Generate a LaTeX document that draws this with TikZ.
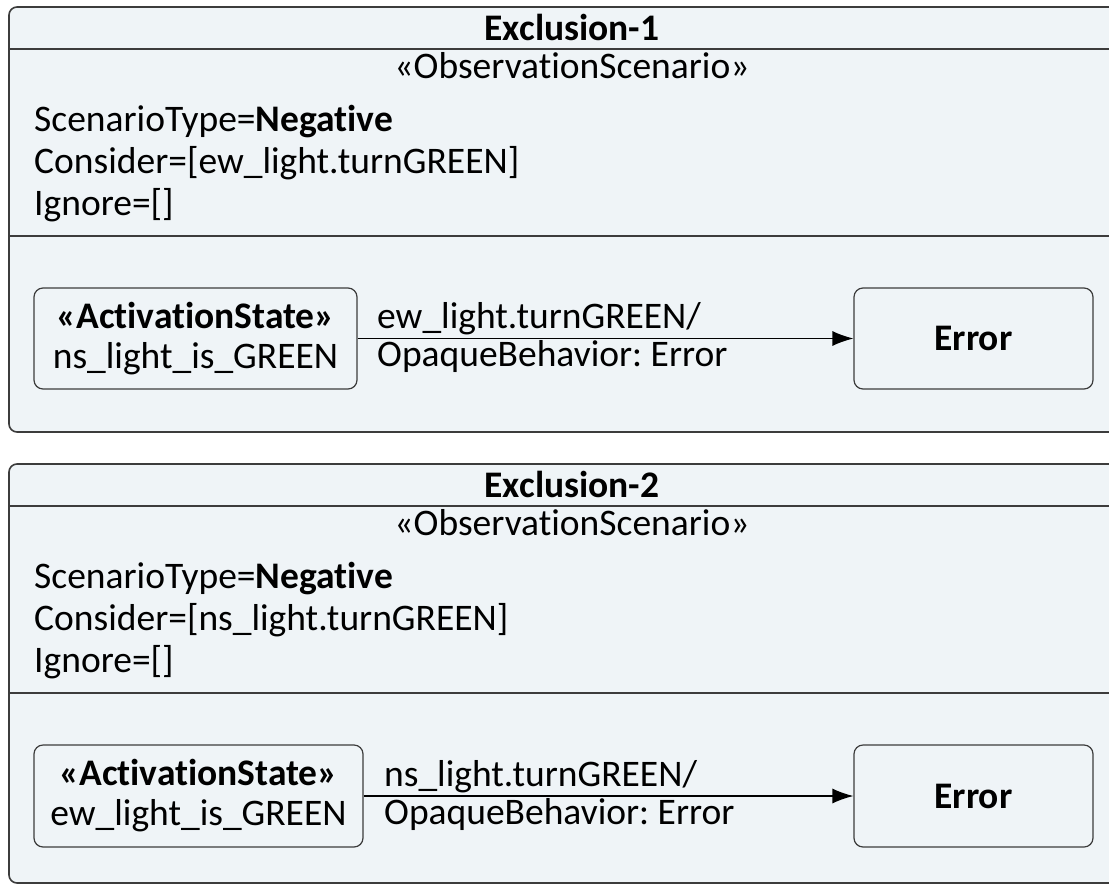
\documentclass[tikz,border=0pt]{standalone}
\usepackage{fontspec}
\setmainfont{Carlito}[Ligatures=NoCommon]
\usetikzlibrary{arrows.meta}
\frenchspacing

\definecolor{framefill}{RGB}{239,244,247}
\definecolor{framedraw}{RGB}{60,60,60}

\tikzset{
  frame/.style={draw=framedraw, fill=framefill, line width=1.6pt, rounded corners=8pt},
  sep/.style={draw=framedraw, line width=1.6pt},
  txt/.style={inner sep=0pt, font=\fontsize{37.5}{42}\selectfont},
  statebox/.style={draw=framedraw, line width=1.2pt, rounded corners=9pt, inner sep=0pt,
    align=center, font=\fontsize{37.5}{40}\selectfont},
  trans/.style={draw=black, line width=1.2pt, -{Latex[length=21pt,width=15pt]}}
}

\begin{document}
\begin{tikzpicture}[x=1pt,y=-1pt]
 \useasboundingbox (0,0) rectangle (1109,887);
 \clip (0,0) rectangle (1109,887);
% first scenario
 \draw[frame] (9,7) rectangle (1135,432);
 \draw[sep] (9,49)--(1135,49);
 \draw[sep] (9,236)--(1135,236);
 \node[txt, anchor=base] (title1) at (572,40) {\textbf{Exclusion-1}};
 \node[txt, anchor=base] (stereo1) at (572,78) {«ObservationScenario»};
 \node[txt, anchor=base west] (type1) at (34,131) {ScenarioType=\textbf{Negative}};
 \node[txt, anchor=base west] (cons1) at (34,173) {Consider=[ew\_light.turnGREEN]};
 \node[txt, anchor=base west] (ign1) at (34,215) {Ignore=[]};
 \node[statebox, minimum width=323pt, minimum height=101pt] (act1) at (195.5,338.5)
   {\textbf{«ActivationState»}\\ns\_light\_is\_GREEN};
 \node[statebox, minimum width=239pt, minimum height=101pt] (err1) at (973.5,338.5)
   {\textbf{Error}};
 \draw[trans] (act1) -- (err1);
 \node[txt, anchor=base west] (ev1) at (377,328) {ew\_light.turnGREEN/};
 \node[txt, anchor=base west] (eff1) at (377,366) {OpaqueBehavior: Error};
% second scenario
 \draw[frame] (9,464) rectangle (1135,883);
 \draw[sep] (9,506)--(1135,506);
 \draw[sep] (9,693)--(1135,693);
 \node[txt, anchor=base] (title2) at (572,497) {\textbf{Exclusion-2}};
 \node[txt, anchor=base] (stereo2) at (572,535) {«ObservationScenario»};
 \node[txt, anchor=base west] (type2) at (34,588) {ScenarioType=\textbf{Negative}};
 \node[txt, anchor=base west] (cons2) at (34,630) {Consider=[ns\_light.turnGREEN]};
 \node[txt, anchor=base west] (ign2) at (34,672) {Ignore=[]};
 \node[statebox, minimum width=329pt, minimum height=102pt] (act2) at (198.5,796)
   {\textbf{«ActivationState»}\\ew\_light\_is\_GREEN};
 \node[statebox, minimum width=239pt, minimum height=102pt] (err2) at (973.5,796)
   {\textbf{Error}};
 \draw[trans] (act2) -- (err2);
 \node[txt, anchor=base west] (ev2) at (384,786) {ns\_light.turnGREEN/};
 \node[txt, anchor=base west] (eff2) at (384,824) {OpaqueBehavior: Error};
\end{tikzpicture}
\end{document}
